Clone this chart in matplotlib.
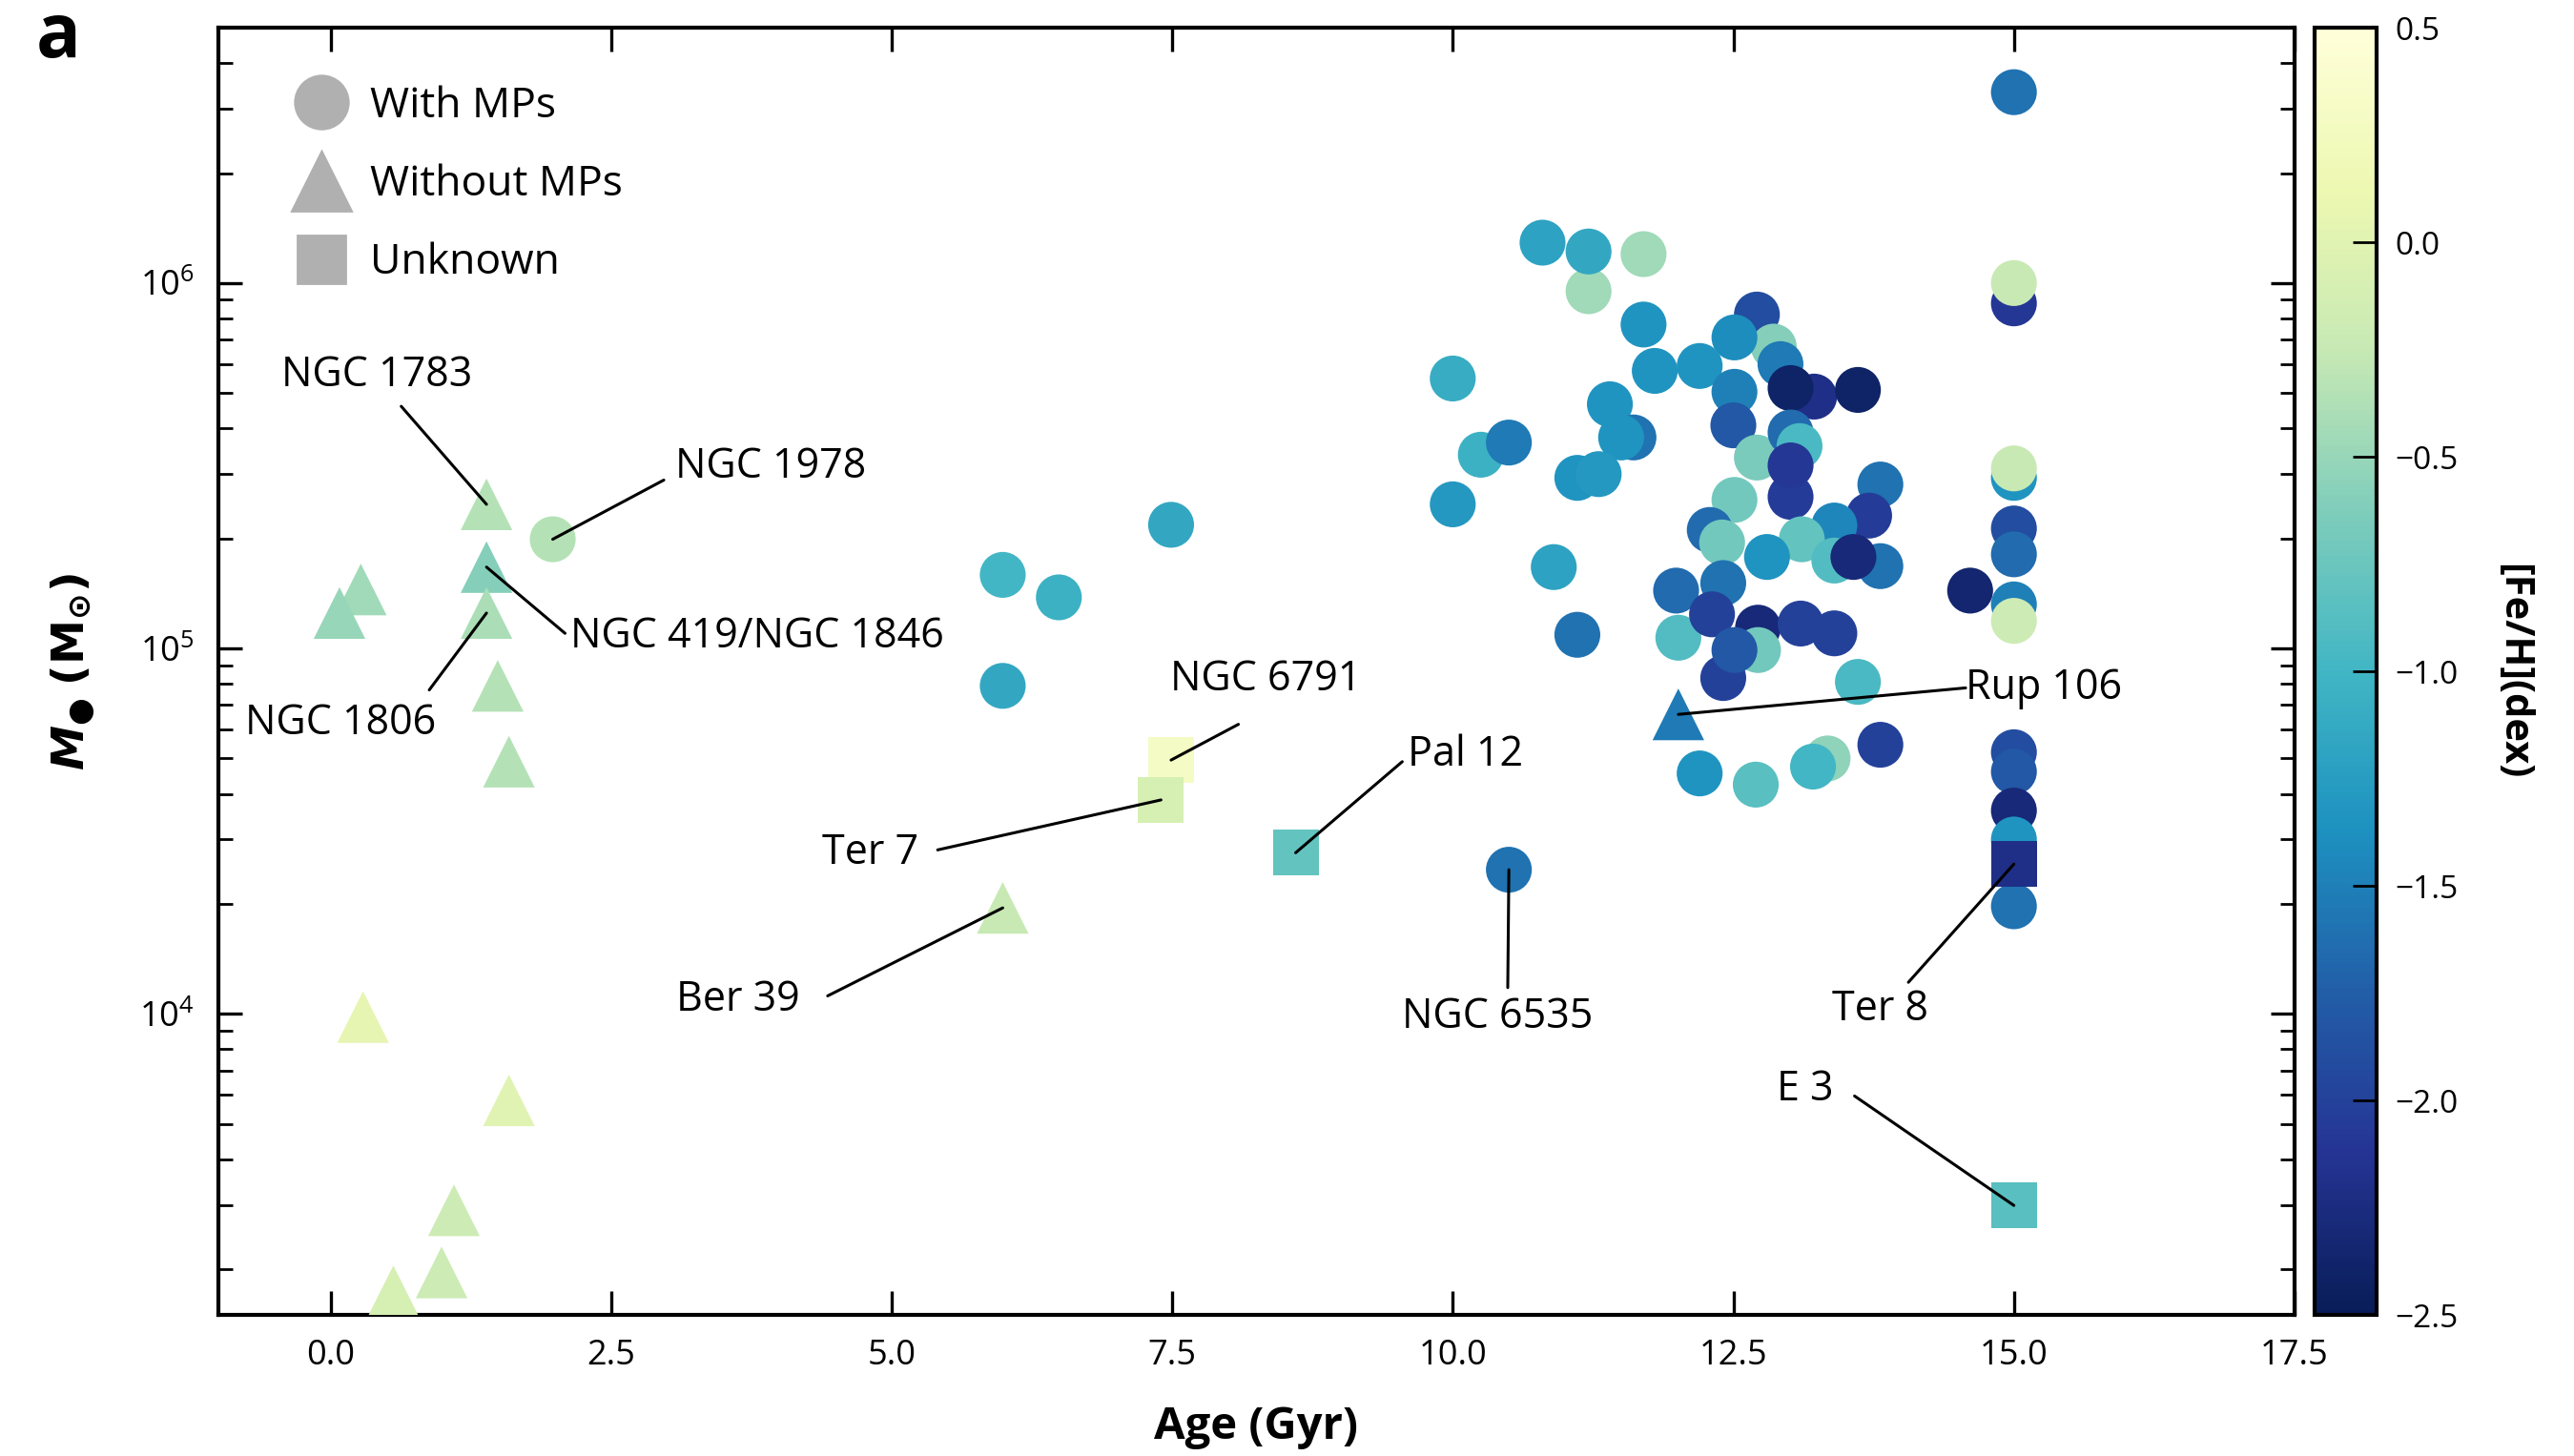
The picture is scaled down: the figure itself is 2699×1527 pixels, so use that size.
import numpy as np
import matplotlib
matplotlib.use("Agg")
import matplotlib.pyplot as plt
from matplotlib.lines import Line2D
from matplotlib.colors import Normalize
import matplotlib.ticker as mticker

plt.rcParams['font.family'] = ['Open Sans', 'DejaVu Sans']
plt.rcParams['mathtext.fontset'] = 'dejavusans'

# ---------------- data ----------------
# clusters with multiple populations (circles)
circ_age = [1.98, 5.99, 6.49, 5.99, 7.49, 10.5,
            10.80, 11.21, 11.21, 11.70, 11.70, 12.71, 12.86, 12.92, 12.51,
            11.80, 12.20, 12.51, 13.22, 13.01, 13.61, 10.00, 11.40, 11.61, 11.50,
            12.50, 12.71, 13.01, 13.09, 13.01, 13.01, 12.51, 10.25, 10.50,
            11.11, 11.30, 10.00, 10.90, 11.11, 13.81, 13.71, 13.40, 13.11,
            13.40, 13.81, 13.57, 12.29, 12.40, 12.80, 11.99, 12.41, 12.01,
            12.31, 12.72, 12.72, 12.41, 12.51, 13.10, 13.40, 13.61, 14.61,
            12.20, 12.70, 13.34, 13.21, 13.81,
            15.0, 15.0, 15.0, 15.0, 15.0, 15.0, 15.0, 15.0, 15.0, 15.0,
            15.0, 15.0, 15.0, 15.0]
circ_mass = [1.99e5, 1.59e5, 1.38e5, 7.9e4, 2.18e5, 2.48e4,
             1.29e6, 9.5e5, 1.22e6, 1.20e6, 7.7e5, 8.2e5, 6.7e5, 6.0e5, 7.1e5,
             5.75e5, 5.93e5, 5.04e5, 4.89e5, 5.16e5, 5.1e5, 5.48e5, 4.66e5, 3.78e5, 3.78e5,
             4.08e5, 3.33e5, 3.9e5, 3.58e5, 2.6e5, 3.17e5, 2.55e5, 3.39e5, 3.66e5,
             2.93e5, 3.0e5, 2.48e5, 1.67e5, 1.09e5, 2.81e5, 2.31e5, 2.17e5, 1.99e5,
             1.74e5, 1.68e5, 1.78e5, 2.11e5, 1.95e5, 1.78e5, 1.44e5, 1.51e5, 1.07e5,
             1.24e5, 1.14e5, 9.9e4, 8.3e4, 9.9e4, 1.17e5, 1.10e5, 8.1e4, 1.44e5,
             4.55e4, 4.24e4, 5.0e4, 4.75e4, 5.45e4,
             3.33e6, 8.8e5, 1.0e6, 2.93e5, 3.11e5, 2.13e5, 1.81e5, 1.32e5, 1.19e5, 5.2e4,
             4.6e4, 3.6e4, 3.0e4, 1.97e4]
circ_feh = [-0.35, -1.0, -1.05, -1.15, -1.15, -1.6,
            -1.2, -0.45, -1.15, -0.45, -1.35, -1.9, -0.6, -1.55, -1.4,
            -1.35, -1.35, -1.5, -2.2, -2.4, -2.4, -1.1, -1.35, -1.6, -1.35,
            -1.8, -0.65, -1.65, -0.95, -2.05, -2.1, -0.7, -1.05, -1.55,
            -1.35, -1.3, -1.3, -1.2, -1.6, -1.6, -2.05, -1.45, -0.8,
            -0.9, -1.6, -2.3, -1.65, -0.7, -1.35, -1.65, -1.6, -0.9,
            -2.0, -2.3, -0.7, -2.0, -1.8, -2.0, -2.0, -0.95, -2.35,
            -1.35, -0.85, -0.55, -1.0, -2.0,
            -1.6, -2.1, -0.25, -1.35, -0.25, -1.9, -1.65, -1.5, -0.2, -1.9,
            -1.8, -2.3, -1.35, -1.6]

# clusters without multiple populations (triangles)
tri_age = [1.39, 1.39, 1.39, 0.27, 0.08, 1.49, 1.59, 0.29, 1.59, 1.10, 0.99, 0.56, 5.99, 12.01]
tri_mass = [2.48e5, 1.67e5, 1.25e5, 1.45e5, 1.25e5, 7.9e4, 4.9e4, 9.8e3, 5.8e3, 2.9e3, 1.96e3, 1.74e3, 1.95e4, 6.6e4]
tri_feh = [-0.35, -0.6, -0.4, -0.45, -0.5, -0.35, -0.35, 0.05, 0.0, -0.2, -0.2, -0.1, -0.25, -1.55]

# unknown (squares)
sq_age = [7.49, 7.40, 8.60, 15.0, 15.0]
sq_mass = [4.95e4, 3.85e4, 2.76e4, 2.57e4, 2.99e3]
sq_feh = [0.3, -0.1, -0.8, -2.2, -0.85]

# annotations: label, target point, line start, text position, alignment
ann_labels = ['NGC 1783', 'NGC 1978', 'NGC 419/NGC 1846', 'NGC 1806', 'Ter 7', 'Ber 39',
              'NGC 6791', 'Pal 12', 'NGC 6535', 'Rup 106', 'Ter 8', 'E 3']
ann_target = [(1.39, 2.48e5), (1.98, 1.99e5), (1.39, 1.67e5), (1.39, 1.25e5), (7.40, 3.85e4),
              (5.99, 1.95e4), (7.49, 4.95e4), (8.60, 2.76e4), (10.5, 2.48e4), (12.01, 6.6e4),
              (15.0, 2.57e4), (15.0, 2.99e3)]
ann_start = [(0.63, 4.6e5), (2.97, 2.89e5), (2.09, 1.10e5), (0.88, 7.7e4), (5.41, 2.81e4),
             (4.43, 1.12e4), (8.09, 6.2e4), (9.55, 4.9e4), (10.49, 1.18e4), (14.57, 7.8e4),
             (14.06, 1.22e4), (13.58, 5.96e3)]
ann_text = [(0.41, 5.6e5), (3.07, 3.14e5), (2.14, 1.08e5), (0.09, 6.25e4), (5.24, 2.75e4),
            (4.18, 1.09e4), (8.33, 8.2e4), (9.60, 5.1e4), (10.40, 9.8e3), (14.57, 7.8e4),
            (13.81, 1.03e4), (13.14, 6.2e3)]
ann_ha = ['center', 'left', 'left', 'center', 'right', 'right',
          'center', 'left', 'center', 'left', 'center', 'center']

legend_labels = ['With MPs', 'Without MPs', 'Unknown']
x_ticks = [0.0, 2.5, 5.0, 7.5, 10.0, 12.5, 15.0, 17.5]
cb_ticks = [-2.5, -2.0, -1.5, -1.0, -0.5, 0.0, 0.5]

# ---------------- figure ----------------
fig = plt.figure(figsize=(13.495, 7.635), dpi=200)
ax = fig.add_axes([0.0848, 0.0969, 0.8066, 0.8841])
cax = fig.add_axes([0.8992, 0.0969, 0.0241, 0.8841])

cmap = plt.get_cmap('YlGnBu_r')
norm = Normalize(vmin=-2.5, vmax=0.5)

sc = ax.scatter(circ_age, circ_mass, c=circ_feh, cmap=cmap, norm=norm, s=300,
                marker='o', linewidths=0, zorder=3)
ax.scatter(tri_age, tri_mass, c=tri_feh, cmap=cmap, norm=norm, s=380,
           marker='^', linewidths=0, zorder=3)
ax.scatter(sq_age, sq_mass, c=sq_feh, cmap=cmap, norm=norm, s=300,
           marker='s', linewidths=0, zorder=4)

for lab, tgt, st, tp, ha in zip(ann_labels, ann_target, ann_start, ann_text, ann_ha):
    ax.annotate('', xy=tgt, xytext=st,
                arrowprops=dict(arrowstyle='-', color='black', lw=1.1,
                                shrinkA=0, shrinkB=0), zorder=5)
    ax.text(tp[0], tp[1], lab, ha=ha, va='center', fontsize=15.5, zorder=6)

ax.set_yscale('log')
ax.set_xlim(-1.0, 17.5)
ax.set_ylim(1.5e3, 5e6)
ax.set_xticks(x_ticks)
ax.set_xticklabels(['%.1f' % v for v in x_ticks])
ax.xaxis.set_minor_locator(mticker.NullLocator())
ax.yaxis.set_major_locator(mticker.LogLocator(base=10, numticks=10))
ax.yaxis.set_minor_locator(mticker.LogLocator(base=10, subs=np.arange(2, 10), numticks=20))
ax.yaxis.set_minor_formatter(mticker.NullFormatter())

ax.tick_params(which='both', direction='in', top=True, right=True, labelsize=13)
ax.tick_params(which='major', length=9, width=1.2, pad=9)
ax.tick_params(which='minor', length=5.5, width=1.0)
for sp in ax.spines.values():
    sp.set_linewidth(1.5)

ax.set_xlabel('Age (Gyr)', fontsize=17, fontweight='bold', labelpad=12)
ax.set_ylabel('$\\mathbfit{M}_{\u25CF}$ $\\mathbf{(M_{\\odot})}$', fontsize=17,
              fontweight='bold', labelpad=16)

handles = [Line2D([], [], marker='o', color='#b0b0b0', linestyle='none', markersize=20),
           Line2D([], [], marker='^', color='#b0b0b0', linestyle='none', markersize=22),
           Line2D([], [], marker='s', color='#b0b0b0', linestyle='none', markersize=18)]
ax.legend(handles, legend_labels, loc='upper left', bbox_to_anchor=(0.022, 0.975),
          frameon=False, fontsize=16, labelspacing=0.85, handletextpad=0.4,
          handlelength=1.5, borderaxespad=0.2)

cb = fig.colorbar(sc, cax=cax)
cb.set_ticks(cb_ticks)
cb.set_ticklabels(['%.1f' % v if v >= 0 else '\u2212%.1f' % abs(v) for v in cb_ticks])
cax.tick_params(direction='in', length=9, width=1.0, labelsize=12, pad=7)
cb.outline.set_linewidth(1.5)
cb.set_label('[Fe/H](dex)', rotation=270, fontsize=15, fontweight='bold', labelpad=28)

fig.text(0.014, 0.9607, 'a', fontsize=28, fontweight='bold', va='baseline')

fig.savefig('out.png', dpi=200)
